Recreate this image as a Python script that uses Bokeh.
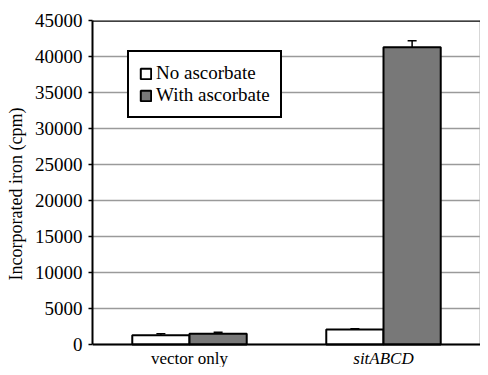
from bokeh.plotting import figure
from bokeh.models import (ColumnDataSource, Range1d, FactorRange, Whisker, Span, Label,
                          Legend, LegendItem, FixedTicker, TeeHead)
from bokeh.transform import dodge
from bokeh.embed import file_html
from bokeh.resources import INLINE

categories = ["vector only", "sitABCD"]
no_ascorbate = [1300, 2100]
no_ascorbate_err = [200, 100]
with_ascorbate = [1500, 41300]
with_ascorbate_err = [200, 900]
series_names = ["No ascorbate", "With ascorbate"]
y_ticks = [0, 5000, 10000, 15000, 20000, 25000, 30000, 35000, 40000, 45000]

FONT = "Liberation Serif"

# frame runs to the bottom of the canvas so the category labels (drawn inside it) stay visible
y_min = -y_ticks[-1] * 23 / 324
p = figure(width=480, height=367, x_range=FactorRange(*categories),
           y_range=Range1d(y_min, y_ticks[-1]),
           output_backend="svg", toolbar_location=None,
           min_border_left=92, min_border_right=0, min_border_top=20, min_border_bottom=0)

src_no = ColumnDataSource(dict(cat=categories, val=no_ascorbate,
                               lo=[v - e for v, e in zip(no_ascorbate, no_ascorbate_err)],
                               hi=[v + e for v, e in zip(no_ascorbate, no_ascorbate_err)]))
src_with = ColumnDataSource(dict(cat=categories, val=with_ascorbate,
                                 lo=[v - e for v, e in zip(with_ascorbate, with_ascorbate_err)],
                                 hi=[v + e for v, e in zip(with_ascorbate, with_ascorbate_err)]))

w = 0.295
r_no = p.vbar(x=dodge("cat", -w / 2, range=p.x_range), top="val", width=w, source=src_no,
              fill_color="white", line_color="black", line_width=2)
r_with = p.vbar(x=dodge("cat", w / 2, range=p.x_range), top="val", width=w, source=src_with,
                fill_color="#787878", line_color="black", line_width=2)

for src, off in ((src_no, -w / 2), (src_with, w / 2)):
    wh = Whisker(base=dodge("cat", off, range=p.x_range), upper="hi", lower="lo", source=src,
                 line_color="black", line_width=1.5,
                 upper_head=TeeHead(size=9, line_color="black", line_width=1.5),
                 lower_head=TeeHead(size=9, line_color="black", line_width=1.5))
    p.add_layout(wh)

# y axis
p.yaxis.ticker = FixedTicker(ticks=y_ticks)
p.yaxis.bounds = (y_ticks[0], y_ticks[-1])
p.yaxis.axis_line_color = "black"
p.yaxis.axis_line_width = 2
p.yaxis.major_tick_line_color = "black"
p.yaxis.major_tick_line_width = 1.5
p.yaxis.major_tick_out = 4
p.yaxis.major_tick_in = 0
p.yaxis.minor_tick_line_color = None
p.yaxis.major_label_text_font = FONT
p.yaxis.major_label_text_font_size = "19px"
p.yaxis.major_label_text_color = "black"
p.yaxis.major_label_standoff = 6
p.yaxis.axis_label = "Incorporated iron (cpm)"
p.yaxis.axis_label_text_font = FONT
p.yaxis.axis_label_text_font_size = "18px"
p.yaxis.axis_label_text_font_style = "normal"
p.yaxis.axis_label_text_color = "black"
p.yaxis.axis_label_standoff = 6

p.xaxis.visible = False
p.add_layout(Span(location=y_ticks[0], dimension="width", line_color="black", line_width=2))
p.add_layout(Span(location=y_ticks[-1], dimension="width", line_color="black", line_width=2.5))
# light right-hand frame edge
p.segment(x0=[len(categories)], y0=[y_ticks[0]], x1=[len(categories)], y1=[y_ticks[-1]],
          line_color="#b0b0b0", line_width=2)

p.xgrid.grid_line_color = None
p.ygrid.grid_line_color = "#9a9a9a"
p.ygrid.grid_line_width = 1.5
p.outline_line_color = None

# category labels (synthetic categorical coordinate: factor index + 0.5)
for i, (cat, style) in enumerate(zip(categories, ["normal", "italic"])):
    p.add_layout(Label(x=i + 0.5, y=y_ticks[0], y_offset=-14, text=cat, text_font=FONT,
                       text_font_size="17px", text_font_style=style, text_align="center",
                       text_baseline="alphabetic", text_color="black"))

legend = Legend(items=[LegendItem(label=series_names[0], renderers=[r_no]),
                       LegendItem(label=series_names[1], renderers=[r_with])],
                location=(35, 249), padding=10, margin=0, spacing=-2,
                glyph_width=13, glyph_height=13, label_height=20, label_standoff=4,
                label_text_font=FONT, label_text_font_size="19px", label_text_color="black",
                border_line_color="black", border_line_width=2, border_line_alpha=1.0,
                background_fill_color="white", background_fill_alpha=1.0)
p.add_layout(legend)

p.background_fill_color = "white"
p.border_fill_color = "white"

open("out.html", "w").write(file_html(p, INLINE))
